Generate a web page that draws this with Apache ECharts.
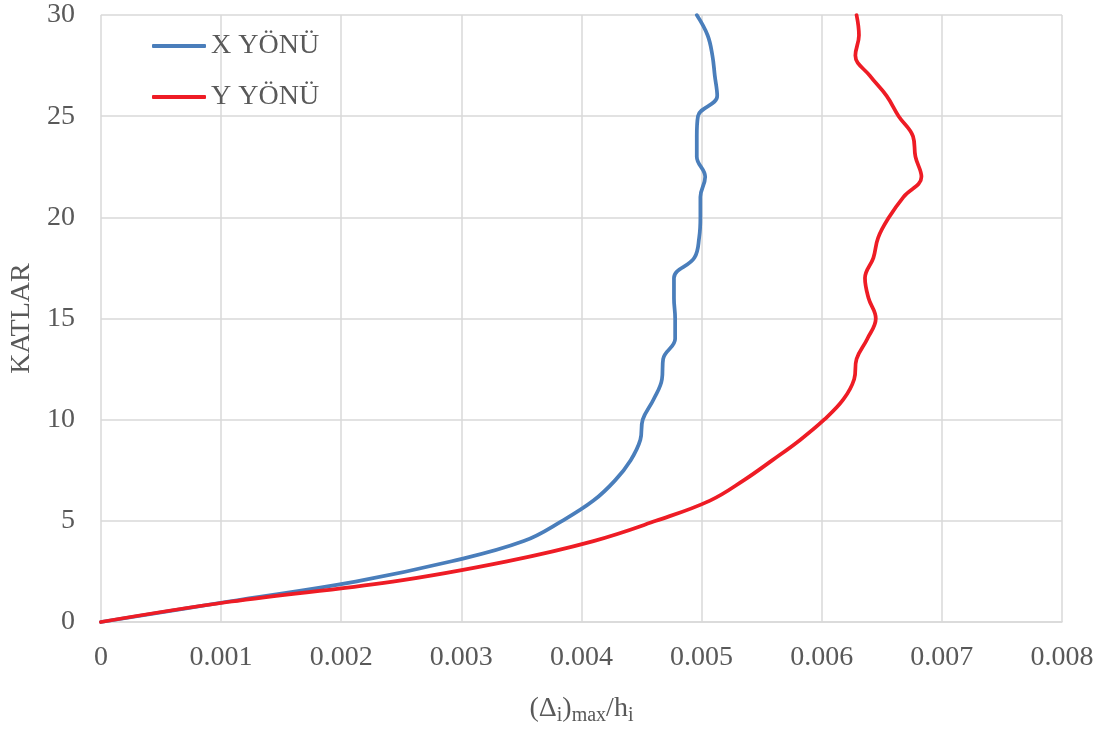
<!DOCTYPE html>
<html>
<head>
<meta charset="utf-8">
<script src="https://cdn.jsdelivr.net/npm/echarts@6/dist/echarts.min.js"></script>
<style>
html,body{margin:0;padding:0;background:#fff;}
#chart{width:1105px;height:735px;}
</style>
</head>
<body>
<div id="chart"></div>
<script>
const floors = [0,1,2,3,4,5,6,7,8,9,10,11,12,13,14,15,16,17,18,19,20,21,22,23,24,25,26,27,28,29,30];
const xDir = [0, 0.00105, 0.00212, 0.00292, 0.00352, 0.00384, 0.00410, 0.00428, 0.00441, 0.00449, 0.00451,
  0.00460, 0.00467, 0.00468, 0.00478, 0.00478, 0.00477, 0.00477, 0.00494, 0.00498, 0.00499,
  0.00499, 0.00503, 0.00496, 0.00496, 0.00497, 0.00513, 0.00511, 0.00509, 0.00505, 0.00496];
const yDir = [0, 0.00107, 0.00243, 0.00338, 0.00410, 0.00462, 0.00507, 0.00535, 0.00559, 0.00582, 0.00602,
  0.00618, 0.00627, 0.00629, 0.00638, 0.00645, 0.00639, 0.00636, 0.00643, 0.00647, 0.00656,
  0.00668, 0.00683, 0.00678, 0.00676, 0.00664, 0.00654, 0.00640, 0.00628, 0.00631, 0.00629];
const seriesNames = ['X YÖNÜ', 'Y YÖNÜ'];
const xTicks = ['0','0.001','0.002','0.003','0.004','0.005','0.006','0.007','0.008'];

const font = '"Liberation Serif", "Times New Roman", serif';
const gray = '#595959';
const chart = echarts.init(document.getElementById('chart'));
chart.setOption({
  animation: false,
  backgroundColor: '#fff',
  grid: {left: 100, right: 43, top: 15, bottom: 113, containLabel: false},
  legend: {
    orient: 'vertical', left: 147, top: 27,
    itemWidth: 54, itemHeight: 4, itemGap: 23, icon: 'roundRect',
    textStyle: {fontFamily: font, fontSize: 28, color: gray},
    data: seriesNames
  },
  xAxis: {
    type: 'value', min: 0, max: 0.008, interval: 0.001,
    axisLine: {show: true, lineStyle: {color: '#d9d9d9', width: 1.5}},
    axisTick: {show: false},
    splitLine: {show: true, lineStyle: {color: '#d9d9d9', width: 1.5}},
    axisLabel: {margin: 22, fontFamily: font, fontSize: 28, color: gray,
      formatter: function (v) { return xTicks[Math.round(v / 0.001)]; }},
    name: '(Δ{s|i}){s|max}/h{s|i}',
    nameLocation: 'middle', nameGap: 70,
    nameTextStyle: {fontFamily: font, fontSize: 28, color: gray,
      rich: {s: {fontFamily: font, fontSize: 20, color: gray, padding: [14,0,0,0]}}}
  },
  yAxis: {
    type: 'value', min: 0, max: 30, interval: 5,
    axisLine: {show: false},
    axisTick: {show: false},
    splitLine: {show: true, lineStyle: {color: '#d9d9d9', width: 1.5}},
    axisLabel: {margin: 26, fontFamily: font, fontSize: 28, color: gray},
    name: 'KATLAR', nameLocation: 'middle', nameGap: 61, nameRotate: 90,
    nameTextStyle: {fontFamily: font, fontSize: 28, color: gray}
  },
  series: [
    {name: seriesNames[0], type: 'line', smooth: 0.4, symbol: 'none',
      lineStyle: {color: '#4a7ebb', width: 3.75, cap: 'round'}, itemStyle: {color: '#4a7ebb'},
      data: floors.map((f, i) => [xDir[i], f])},
    {name: seriesNames[1], type: 'line', smooth: 0.4, symbol: 'none',
      lineStyle: {color: '#ee1c25', width: 3.75, cap: 'round'}, itemStyle: {color: '#ee1c25'},
      data: floors.map((f, i) => [yDir[i], f])}
  ]
});
</script>
</body>
</html>
